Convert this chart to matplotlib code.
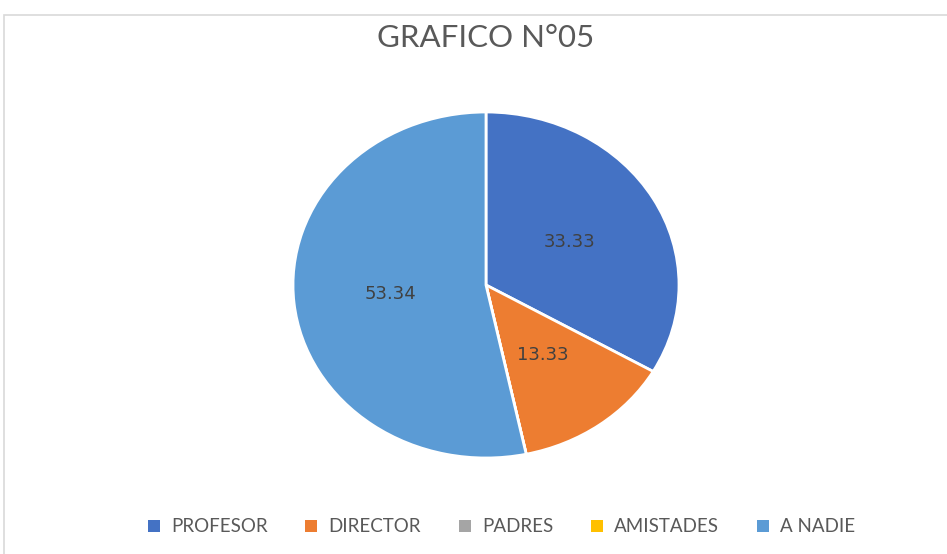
import matplotlib
matplotlib.use("Agg")
import matplotlib.pyplot as plt
from matplotlib.patches import Rectangle

categories = ["PROFESOR", "DIRECTOR", "PADRES", "AMISTADES", "A NADIE"]
values = [33.33, 13.33, 0.0, 0.0, 53.34]
colors = ["#4472C4", "#ED7D31", "#A5A5A5", "#FFC000", "#5B9BD5"]
title = "GRAFICO N°05"

plt.rcParams['font.family'] = ['Lato', 'DejaVu Sans']

W, H = 947, 554
fig = plt.figure(figsize=(W / 100, H / 100), dpi=100)
fig.patch.set_facecolor("white")

# chart border
fig.patches.append(Rectangle((4 / W, -0.01), 1.1, 1 - 15 / H + 0.01, transform=fig.transFigure,
                             facecolor="none", edgecolor="#D9D9D9", linewidth=1.2))

cx, cy, rx, ry = 486, 285, 193, 173
ax = fig.add_axes([(cx - rx) / W, (H - cy - ry) / H, 2 * rx / W, 2 * ry / H])

total = sum(values)


def fmt(pct):
    v = pct * total / 100.0
    return "" if v < 0.005 else f"{v:.2f}"


wedges, texts, autotexts = ax.pie(values, colors=colors, startangle=90, counterclock=False,
                                  autopct=fmt, pctdistance=0.5,
                                  wedgeprops=dict(edgecolor="white", linewidth=2),
                                  textprops=dict(color="#404040", fontsize=13,
                                                 family=['DejaVu Sans']))
ax.set_aspect('auto')
ax.set_xlim(-1.0, 1.0)
ax.set_ylim(-1.0, 1.0)

fig.text(486 / W, 1 - 38 / H, title, ha="center", va="center", fontsize=22.5, color="#595959")

handles = [Rectangle((0, 0), 1, 1, facecolor=c) for c in colors]
fig.legend(handles, categories, loc="center", bbox_to_anchor=(501.5 / W, 1 - 527 / H), ncol=5,
           frameon=False, fontsize=13.5, labelcolor="#595959", handlelength=0.65, handleheight=0.65,
           handletextpad=0.6, columnspacing=2.0)

fig.savefig("out.png", dpi=100, facecolor="white")
